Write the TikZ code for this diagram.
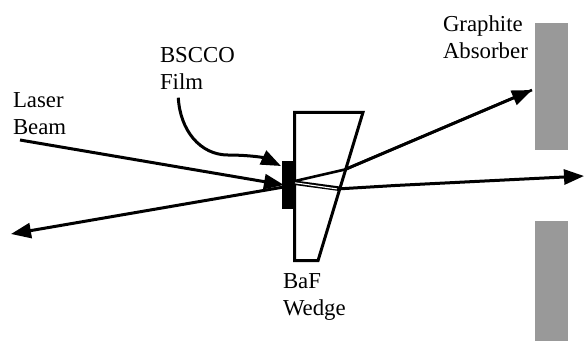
\documentclass[tikz,border=0pt]{standalone}
\usepackage{fontspec}
\setmainfont{Liberation Serif}
\usetikzlibrary{arrows.meta}
\definecolor{absorbergrey}{HTML}{999999}
\tikzset{
  px/.style={x=1pt,y=-1pt},
  tipped/.style={-{Triangle[length=20pt,width=15pt]}},
  beam/.style={line width=3pt,tipped},
  label/.style={inner sep=0pt,outer sep=0pt,align=left,anchor=north west,font=\fontsize{22.8}{27}\selectfont},
  absorber/.style={fill=absorbergrey,draw=none},
}
\begin{document}
\begin{tikzpicture}[px]
\useasboundingbox (0,0) rectangle (584,341);
% absorbers
\path[absorber] (534.7,23.3) rectangle (568.3,149.7);
\path[absorber] (534.7,221) rectangle (568.3,341);
% wedge
\draw[line width=3pt,miter limit=4] (294.5,112.3) -- (363,112.3) -- (318,260.7) -- (294.5,260.7) -- cycle;
% film
\node[fill=black,inner sep=0pt,minimum width=13pt,minimum height=48pt] (film) at (288.8,185) {};
% named points
\coordinate (laser) at (20,140);
\coordinate (hit) at (284,185);
\coordinate (refl) at (11,234);
\coordinate (back) at (295,181);
\coordinate (upper) at (345,169.5);
\coordinate (uppertip) at (532,90);
\coordinate (exit) at (340,188.8);
\coordinate (lowermid) at (395,185.5);
\coordinate (lowertip) at (584,176);
\coordinate (ptrstart) at (178.3,97.7);
\coordinate (ptrtip) at (281,166);
% beams
\draw[beam] (laser) -- (hit);
\draw[beam] (film.center) ++(-5,2) -- (refl);
\draw[line width=2.6pt,line join=round] (back) -- (upper) -- (uppertip);
\draw[beam] (upper) -- (uppertip);
\draw[line width=4.6pt] (295,182.8) -- (exit);
\draw[line width=1.1pt,white] (295,182.8) -- (337,188.9);
\draw[line width=3pt,line join=round] (exit) -- (lowermid);
\draw[beam] (lowermid) -- (lowertip);
\draw[beam] (ptrstart) .. controls (180,130) and (200,155) .. (228,155) .. controls (245,155) and (262,157) .. (ptrtip);
% labels
\node[label] (lb) at (13,93) {Laser\\Beam};
\node[label] (bf) at (160,47.5) {BSCCO\\Film};
\node[label] (ga) at (443,16) {Graphite\\Absorber};
\node[label] (bw) at (283,274) {BaF\\Wedge};
\end{tikzpicture}
\end{document}
